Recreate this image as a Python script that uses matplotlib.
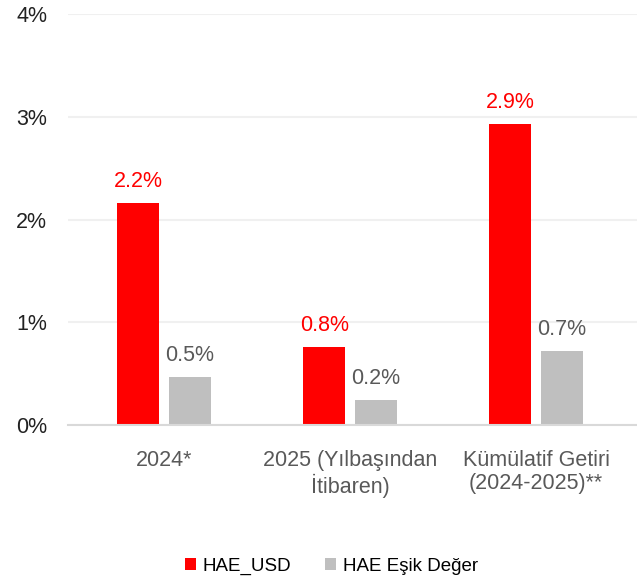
import numpy as np
import matplotlib
matplotlib.use("Agg")
import matplotlib.pyplot as plt
from matplotlib.ticker import FuncFormatter

categories = ["2024*", "2025 (Yılbaşından\nİtibaren)", "Kümülatif Getiri\n(2024-2025)**"]
hae_usd = [2.16, 0.76, 2.93]
hae_esik = [0.47, 0.24, 0.72]
series_names = ["HAE_USD", "HAE Eşik Değer"]

red = "#ff0000"
grey = "#bfbfbf"
text_grey = "#595959"

plt.rcParams["font.family"] = ["Liberation Sans", "DejaVu Sans"]

fig = plt.figure(figsize=(6.37, 5.77), dpi=100)
ax = fig.add_axes([0.107, 0.2634, 0.893, 0.7123])

x = np.arange(len(categories))
w = 0.226
off = 0.138

b1 = ax.bar(x - off, hae_usd, w, color=red, label=series_names[0], zorder=3)
b2 = ax.bar(x + off, hae_esik, w, color=grey, label=series_names[1], zorder=3)

# value labels above the bars
for bars, col in ((b1, red), (b2, text_grey)):
    for rect in bars:
        h = rect.get_height()
        ax.annotate(f"{h:.1f}%", (rect.get_x() + rect.get_width() / 2, h),
                    xytext=(0, 8), textcoords="offset points",
                    ha="center", va="bottom", color=col, fontsize=15.5)

ax.set_ylim(0, 4)
ax.set_xlim(-0.516, 2.543)
ax.set_yticks([0, 1, 2, 3, 4])
ax.yaxis.set_major_formatter(FuncFormatter(lambda v, p: f"{v:.0f}%"))
ax.set_xticks(x)
ax.set_xticklabels(categories, color=text_grey, linespacing=1.15)

ax.grid(axis="y", color="#f0f0f0", linewidth=1.5, zorder=0)
for s in ("top", "right", "left"):
    ax.spines[s].set_visible(False)
ax.spines["bottom"].set_color("#d9d9d9")
ax.spines["bottom"].set_linewidth(1.5)
ax.spines["bottom"].set_zorder(4)

ax.tick_params(axis="y", length=0, labelsize=15.5, labelcolor="#222222", pad=15)
ax.tick_params(axis="x", length=0, labelsize=15.5, pad=18)

fig.legend(loc="center", bbox_to_anchor=(0.52, 0.018), ncol=2, frameon=False,
           fontsize=13.5, handlelength=0.6, handleheight=0.6,
           handletextpad=0.35, columnspacing=1.8)

fig.savefig("out.png", dpi=100, facecolor="white")
